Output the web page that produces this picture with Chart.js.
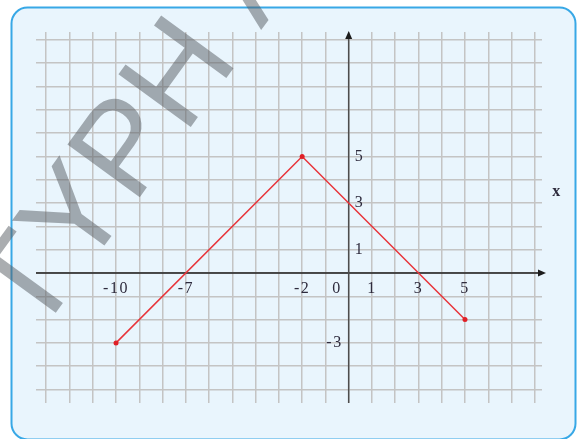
<!DOCTYPE html>
<html>
<head>
<meta charset="utf-8">
<script src="https://cdn.jsdelivr.net/npm/chart.js@4.4.0/dist/chart.umd.min.js"></script>
<style>
    html, body { margin: 0; padding: 0; background: #fff; }
    #grafico { display: block; }
</style>
</head>
<body>
<canvas id="grafico" width="578" height="439"></canvas>
<script>
// vertices de la poligonal
const puntosX = [-10, -2, 5];
const puntosY = [-3, 5, -2];

// numeros escritos sobre los ejes
const etiquetasX = [-10, -7, -2, 0, 1, 3, 5];
const etiquetasY = [5, 3, 1, -3];

// lineas de la cuadricula
const cuadriculaX = [-13, -12, -11, -10, -9, -8, -7, -6, -5, -4, -3, -2, -1, 0, 1, 2, 3, 4, 5, 6, 7, 8];
const cuadriculaY = [-5, -4, -3, -2, -1, 0, 1, 2, 3, 4, 5, 6, 7, 8, 9, 10];

const fuente = '"Liberation Serif", "Times New Roman", serif';

const fondo = {
    id: 'fondo',
    beforeDraw(chart) {
        const ctx = chart.ctx;
        ctx.save();
        ctx.beginPath();
        ctx.roundRect(11.5, 7.5, 564, 432, 16);
        ctx.fillStyle = '#e9f5fd';
        ctx.fill();
        ctx.lineWidth = 2;
        ctx.strokeStyle = '#38a8e6';
        ctx.stroke();
        ctx.restore();
    }
};

const ejes = {
    id: 'ejes',
    beforeDatasetsDraw(chart) {
        const { ctx, chartArea, scales } = chart;
        const x0 = scales.x.getPixelForValue(0);
        const y0 = scales.y.getPixelForValue(0);
        ctx.save();

        // eje x con flecha
        ctx.strokeStyle = '#1c1c1c';
        ctx.fillStyle = '#1c1c1c';
        ctx.lineWidth = 1.5;
        ctx.beginPath();
        ctx.moveTo(chartArea.left, y0);
        ctx.lineTo(chartArea.right, y0);
        ctx.stroke();
        const punta = chartArea.right + 4;
        ctx.beginPath();
        ctx.moveTo(punta, y0);
        ctx.lineTo(punta - 8, y0 - 3.5);
        ctx.lineTo(punta - 8, y0 + 3.5);
        ctx.closePath();
        ctx.fill();

        // eje y con flecha
        ctx.strokeStyle = '#4d4d4d';
        ctx.fillStyle = '#1c1c1c';
        ctx.beginPath();
        ctx.moveTo(x0, chartArea.bottom);
        ctx.lineTo(x0, chartArea.top + 4);
        ctx.stroke();
        const tope = chartArea.top - 1;
        ctx.beginPath();
        ctx.moveTo(x0, tope);
        ctx.lineTo(x0 - 3.5, tope + 8);
        ctx.lineTo(x0 + 3.5, tope + 8);
        ctx.closePath();
        ctx.fill();
        ctx.restore();
    },
    afterDatasetsDraw(chart) {
        const { ctx, chartArea, scales } = chart;
        const x0 = scales.x.getPixelForValue(0);
        const y0 = scales.y.getPixelForValue(0);
        ctx.save();
        ctx.font = '16px ' + fuente;
        ctx.fillStyle = '#2e2b3d';
        ctx.letterSpacing = '1.5px';
        ctx.textBaseline = 'middle';

        ctx.textAlign = 'center';
        etiquetasX.forEach(v => {
            // el cero va a la izquierda del eje y
            const px = scales.x.getPixelForValue(v === 0 ? -0.5 : v);
            ctx.fillText(String(v), px, y0 + 16);
        });

        etiquetasY.forEach(v => {
            const py = scales.y.getPixelForValue(v);
            if (v > 0) {
                ctx.textAlign = 'left';
                ctx.fillText(String(v), x0 + 6, py);
            } else {
                ctx.textAlign = 'right';
                ctx.fillText(String(v), x0 - 6, py);
            }
        });

        ctx.font = 'bold 16px ' + fuente;
        ctx.textAlign = 'center';
        ctx.fillText('x', chartArea.right + 15, scales.y.getPixelForValue(3.5));
        ctx.restore();
    }
};

const marcaAgua = {
    id: 'marcaAgua',
    afterDraw(chart) {
        const ctx = chart.ctx;
        ctx.save();
        ctx.font = '130px "Liberation Sans", Arial, sans-serif';
        ctx.fillStyle = 'rgba(85, 92, 98, 0.5)';
        ctx.textBaseline = 'alphabetic';
        ctx.translate(184.5, 135.5);
        ctx.rotate(-54 * Math.PI / 180);
        ctx.fillText('TYPH A', -ctx.measureText('TYP').width, 0);
        ctx.restore();
    }
};

const opcionesEje = (valores, min, max) => ({
    type: 'linear',
    min: min,
    max: max,
    afterBuildTicks: scale => {
        scale.ticks = valores.map(v => ({ value: v }));
    },
    grid: {
        color: '#c4c4c4',
        lineWidth: 1.5,
        drawTicks: false
    },
    border: { display: false },
    ticks: { display: false }
});

new Chart(document.getElementById('grafico'), {
    type: 'scatter',
    data: {
        datasets: [{
            data: puntosX.map((x, i) => ({ x: x, y: puntosY[i] })),
            showLine: true,
            borderColor: '#e8343a',
            borderWidth: 1.5,
            pointRadius: 2.5,
            pointBackgroundColor: '#e01f26',
            pointBorderWidth: 0,
            tension: 0
        }]
    },
    options: {
        responsive: false,
        animation: false,
        layout: {
            padding: { left: 36, right: 36, top: 32, bottom: 36 }
        },
        plugins: {
            legend: { display: false },
            tooltip: { enabled: false }
        },
        scales: {
            x: opcionesEje(cuadriculaX, -13.44, 8.31),
            y: opcionesEje(cuadriculaY, -5.58, 10.34)
        }
    },
    plugins: [fondo, ejes, marcaAgua]
});
</script>
</body>
</html>
